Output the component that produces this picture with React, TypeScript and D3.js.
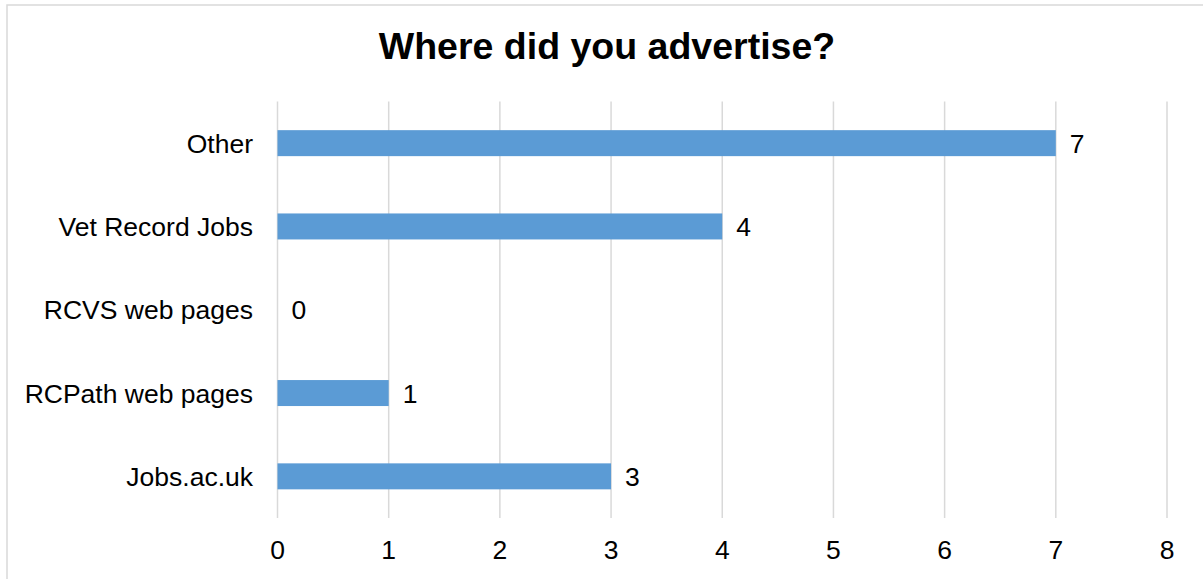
import React from "react";
import * as d3 from "d3";

const categories = ["Jobs.ac.uk", "RCPath web pages", "RCVS web pages", "Vet Record Jobs", "Other"];
const values = [3, 1, 0, 4, 7];
const xTicks = [0, 1, 2, 3, 4, 5, 6, 7, 8];
const title = "Where did you advertise?";

const W = 1203;
const H = 579;
const FONT = "'Liberation Sans', Arial, Helvetica, sans-serif";

export default function App() {
  const x = d3.scaleLinear().domain([0, 8]).range([277.5, 1167]);
  const y = d3
    .scaleBand<string>()
    .domain([...categories].reverse())
    .range([101.5, 518])
    .paddingInner(0.688)
    .paddingOuter(0.344);

  const labelSize = 26.5;
  return (
    <svg
      width={W}
      height={H}
      style={{ position: "absolute", left: 0, top: 0, background: "#fff" }}
      fontFamily={FONT}
    >
      <rect x={0} y={0} width={W} height={H} fill="#fff" />
      <rect x={7} y={5} width={W + 20} height={H + 20} fill="none" stroke="#d9d9d9" strokeWidth={1.5} />
      <text x={607} y={59} textAnchor="middle" fontSize={37.5} fontWeight="bold" fill="#000">
        {title}
      </text>
      {xTicks.map((t) => (
        <line key={"g" + t} x1={x(t)} x2={x(t)} y1={101.5} y2={518} stroke="#d9d9d9" strokeWidth={1.5} />
      ))}
      {categories.map((c, i) => {
        const yy = y(c)!;
        const bw = y.bandwidth();
        const cy = yy + bw / 2;
        return (
          <g key={c}>
            {values[i] > 0 && (
              <rect x={x(0)} y={yy} width={x(values[i]) - x(0)} height={bw} fill="#5B9BD5" />
            )}
            <text x={253} y={cy + 9.5} textAnchor="end" fontSize={labelSize} fill="#000">
              {c}
            </text>
            <text x={x(values[i]) + 14} y={cy + 9.5} fontSize={labelSize} fill="#000">
              {values[i]}
            </text>
          </g>
        );
      })}
      {xTicks.map((t) => (
        <text key={"t" + t} x={x(t)} y={559} textAnchor="middle" fontSize={labelSize} fill="#000">
          {t}
        </text>
      ))}
    </svg>
  );
}
